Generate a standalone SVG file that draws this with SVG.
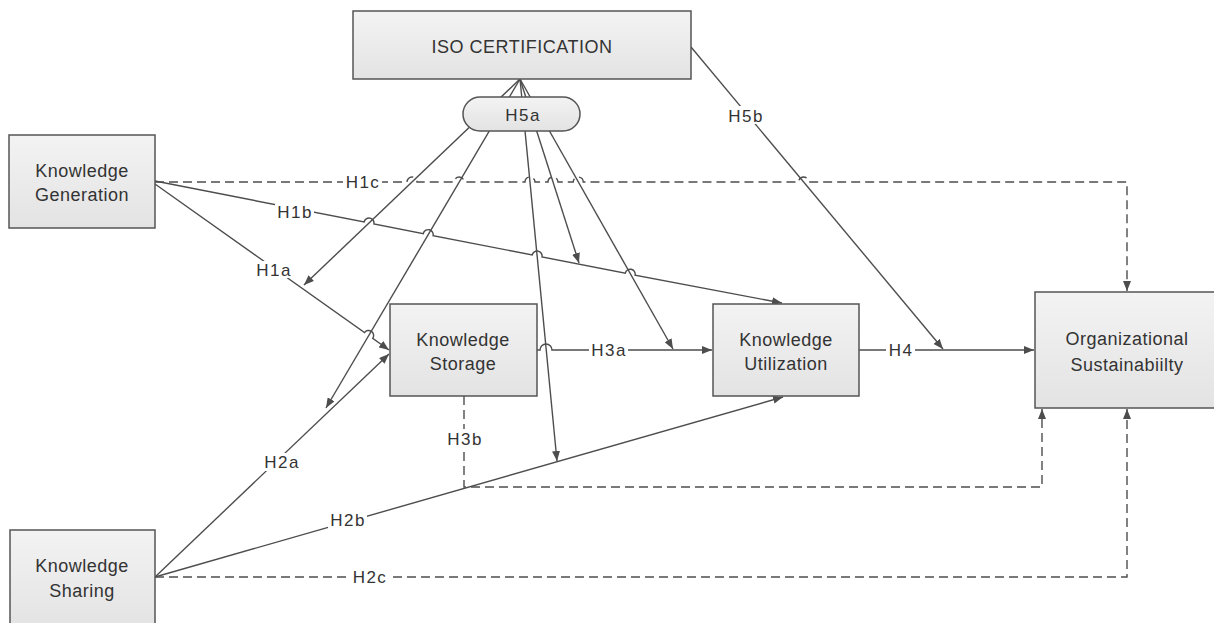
<svg xmlns="http://www.w3.org/2000/svg" width="1214" height="623" viewBox="0 0 1214 623">
<style>
.box{fill:url(#g);stroke:#555;stroke-width:1.5}
.nt{font-family:"Liberation Sans",Arial,sans-serif;font-size:18px;fill:#333;text-anchor:middle;letter-spacing:0.5px}
.lb{font-family:"Liberation Sans",Arial,sans-serif;font-size:17px;fill:#333;text-anchor:middle;letter-spacing:1.5px}
.ln{fill:none;stroke:#4d4d4d;stroke-width:1.4}
.ar{marker-end:url(#ah)}
.dash{stroke-dasharray:9 5}
.bg{fill:#fff}
</style>
<defs>
<linearGradient id="g" x1="0" y1="0" x2="0" y2="1">
<stop offset="0" stop-color="#f3f3f3"/>
<stop offset="1" stop-color="#e3e3e3"/>
</linearGradient>
<marker id="ah" markerUnits="userSpaceOnUse" markerWidth="10" markerHeight="8" refX="10" refY="4" orient="auto">
<path d="M0,0 L10,4 L0,8 z" fill="#4d4d4d"/>
</marker>
</defs>
<rect width="1214" height="623" fill="#fff"/>

<g id="connectors">
<!-- H5a moderation lines from ISO -->
<path class="ln ar" d="M520,79 L304,285"/>
<path class="ln ar" d="M520,79 L326,408"/>
<path class="ln ar" d="M520,79 L557,461"/>
<path class="ln ar" d="M520,79 L579,263"/>
<path class="ln ar" d="M520,79 L673,349"/>
<!-- H5b -->
<path class="ln ar" d="M691,47 L943,349"/>
<!-- H1c -->
<path class="ln ar dash" d="M155,182 H407 A5,5 0 0 1 417,182 H454.2 A5,5 0 0 1 464.2,182 H525 A5,5 0 0 1 535,182 H548 A5,5 0 0 1 558,182 H573.2 A5,5 0 0 1 583.2,182 H798.6 A5,5 0 0 1 808.6,182 H1127 V291"/>
<!-- H1b -->
<path class="ln ar" d="M155,181 L364.1,222 A5,5 0 0 1 373.9,224 L423.3,233.6 A5,5 0 0 1 433.1,235.6 L532.2,255 A5,5 0 0 1 542,257 L625.3,273.2 A5,5 0 0 1 635.1,275.2 L782,303"/>
<!-- H1a -->
<path class="ln ar" d="M155,184 L364.5,332.6 A5,5 0 0 1 372.7,338.4 L389,350"/>
<!-- H2a -->
<path class="ln ar" d="M155,577 L389,354"/>
<!-- H2b -->
<path class="ln ar" d="M155,577 L783,397"/>
<!-- H2c -->
<path class="ln ar dash" d="M155,577 H1127 V409"/>
<!-- H3a -->
<path class="ln ar" d="M537,350 H540 A6,6 0 0 1 552,350 H712"/>
<!-- H3b -->
<path class="ln ar dash" d="M464,396 V487 H1042 V409"/>
<!-- H4 -->
<path class="ln ar" d="M859,350 H1034"/>
</g>

<g id="labels">
<rect class="bg" x="343" y="174" width="39" height="16"/>
<text class="lb" x="363" y="188">H1c</text>
<rect class="bg" x="275" y="204" width="39" height="16"/>
<text class="lb" x="295" y="218">H1b</text>
<rect class="bg" x="254" y="261" width="39" height="17"/>
<text class="lb" x="274" y="276">H1a</text>
<rect class="bg" x="262" y="453" width="39" height="18"/>
<text class="lb" x="282" y="468">H2a</text>
<rect class="bg" x="328" y="512" width="39" height="16"/>
<text class="lb" x="348" y="526">H2b</text>
<rect class="bg" x="350" y="569" width="39" height="16"/>
<text class="lb" x="370" y="583">H2c</text>
<rect class="bg" x="589" y="342" width="39" height="16"/>
<text class="lb" x="609" y="356">H3a</text>
<rect class="bg" x="445" y="429" width="39" height="20"/>
<text class="lb" x="465" y="445">H3b</text>
<rect class="bg" x="886" y="342" width="29" height="16"/>
<text class="lb" x="901" y="356">H4</text>
<rect class="bg" x="726" y="106" width="39" height="18"/>
<text class="lb" x="746" y="122">H5b</text>
</g>

<g id="iso">
<rect class="box" x="353" y="11" width="338" height="68"/>
<text class="nt" x="522" y="53">ISO CERTIFICATION</text>
</g>

<g id="h5a">
<rect class="box" x="463" y="97" width="117" height="34" rx="17" ry="17"/>
<text class="lb" x="523" y="121">H5a</text>
</g>

<g id="knowledge-generation">
<rect class="box" x="9" y="135" width="146" height="93"/>
<text class="nt" x="82" y="177">Knowledge</text>
<text class="nt" x="82" y="201">Generation</text>
</g>

<g id="knowledge-storage">
<rect class="box" x="390" y="304" width="147" height="92"/>
<text class="nt" x="463" y="346">Knowledge</text>
<text class="nt" x="463" y="370">Storage</text>
</g>

<g id="knowledge-utilization">
<rect class="box" x="713" y="304" width="146" height="92"/>
<text class="nt" x="786" y="346">Knowledge</text>
<text class="nt" x="786" y="370">Utilization</text>
</g>

<g id="organizational-sustainability">
<rect class="box" x="1035" y="292" width="190" height="116"/>
<text class="nt" x="1127" y="345">Organizational</text>
<text class="nt" x="1127" y="371">Sustainabiilty</text>
</g>

<g id="knowledge-sharing">
<rect class="box" x="10" y="530" width="145" height="100"/>
<text class="nt" x="82" y="572">Knowledge</text>
<text class="nt" x="82" y="597">Sharing</text>
</g>
</svg>
